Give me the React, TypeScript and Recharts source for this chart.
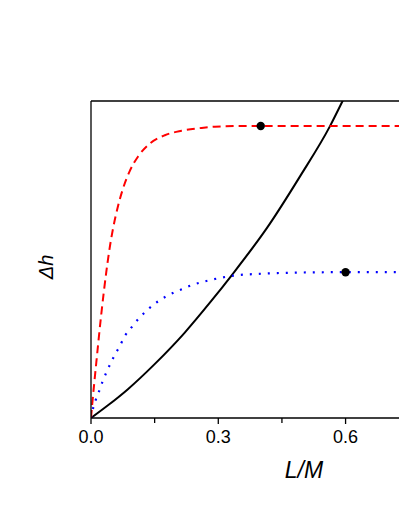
import React from 'react';
import { ComposedChart, Line, Scatter, XAxis, YAxis, ReferenceLine } from 'recharts';

const redLM = [0, 0.0024, 0.0125, 0.024, 0.036, 0.045, 0.052, 0.064, 0.075, 0.091, 0.111, 0.138, 0.174, 0.213, 0.26, 0.292, 0.35, 0.4, 0.5, 0.6, 0.78];
const redDH = [0, 0.036, 0.175, 0.325, 0.46, 0.545, 0.598, 0.67, 0.722, 0.778, 0.825, 0.865, 0.892, 0.906, 0.915, 0.919, 0.921, 0.921, 0.921, 0.921, 0.921];

const blueLM = [0, 0.005, 0.0125, 0.02, 0.028, 0.036, 0.046, 0.056, 0.068, 0.079, 0.095, 0.112, 0.133, 0.154, 0.176, 0.197, 0.218, 0.239, 0.26, 0.281, 0.335, 0.4, 0.5, 0.6, 0.78];
const blueDH = [0, 0.031, 0.062, 0.088, 0.118, 0.143, 0.172, 0.199, 0.227, 0.257, 0.285, 0.313, 0.341, 0.364, 0.383, 0.397, 0.408, 0.42, 0.428, 0.435, 0.449, 0.455, 0.459, 0.46, 0.46];

const blackLM = [0, 0.04, 0.087, 0.15, 0.22, 0.284, 0.332, 0.414, 0.493, 0.563, 0.593, 0.62];
const blackDH = [0, 0.04, 0.091, 0.17, 0.268, 0.37, 0.451, 0.598, 0.763, 0.92, 1.0, 1.075];

const markerLM = [0.4, 0.6];
const markerDH = [0.921, 0.46];

const xTicks = [0, 0.15, 0.3, 0.45, 0.6];
const xTickLabels = ['0.0', '', '0.3', '', '0.6'];

const zip = (xs: number[], ys: number[]) => xs.map((x, i) => ({ x, y: ys[i] }));
const redData = zip(redLM, redDH);
const blueData = zip(blueLM, blueDH);
const blackData = zip(blackLM, blackDH);
const markerData = zip(markerLM, markerDH);

const FONT = '"Liberation Sans", Arial, sans-serif';

const Tick = (props: any) => {
  const { x, y, payload } = props;
  const idx = xTicks.indexOf(payload.value);
  const label = idx >= 0 ? xTickLabels[idx] : '';
  const len = label ? 6 : 5;
  return (
    <g>
      <line x1={x} x2={x} y1={y} y2={y + len} stroke="#000" strokeWidth={1.3} />
      {label && (
        <text x={x} y={y + 25} textAnchor="middle" fontSize={18} fontFamily={FONT} fill="#000">
          {label}
        </text>
      )}
    </g>
  );
};

export default function App() {
  return (
    <div style={{ position: 'fixed', left: 8, top: 8, width: 391, height: 480, overflow: 'hidden', background: '#fff' }}>
      <ComposedChart width={410} height={480} margin={{ top: 93, right: 0, left: 0, bottom: 40 }}>
        <XAxis
          type="number"
          dataKey="x"
          domain={[0, 0.7707]}
          allowDataOverflow
          ticks={xTicks}
          tickSize={0}
          tickMargin={0}
          tickLine={false}
          tick={<Tick />}
          axisLine={{ stroke: '#000', strokeWidth: 1.3 }}
          height={30}
          interval={0}
        />
        <YAxis
          type="number"
          dataKey="y"
          domain={[0, 1]}
          allowDataOverflow
          width={83}
          tick={false}
          tickLine={false}
          axisLine={{ stroke: '#000', strokeWidth: 1.3 }}
        />
        <ReferenceLine y={1} stroke="#000" strokeWidth={1.3} />
        <Line data={blackData} dataKey="y" type="monotone" stroke="#000" strokeWidth={2} dot={false} isAnimationActive={false} />
        <Line data={blueData} dataKey="y" type="monotone" stroke="#0000FF" strokeWidth={2.2} strokeDasharray="2 7" dot={false} isAnimationActive={false} />
        <Line data={redData} dataKey="y" type="monotone" stroke="#FF0000" strokeWidth={2} strokeDasharray="8 5" dot={false} isAnimationActive={false} />
        <Scatter data={markerData} dataKey="y" fill="#000" isAnimationActive={false} shape={(p: any) => <circle cx={p.cx} cy={p.cy} r={4.2} fill="#000" />} />
      </ComposedChart>
      <svg width={391} height={480} style={{ position: 'absolute', left: 0, top: 0, pointerEvents: 'none' }}>
        <text transform="translate(45,259) rotate(-90)" textAnchor="middle" fontSize={20} fontStyle="italic" fontFamily={FONT} fill="#000">
          Δh
        </text>
        <text x={296} y={470} textAnchor="middle" fontSize={23} fontStyle="italic" fontFamily={FONT} fill="#000">
          L/M
        </text>
      </svg>
    </div>
  );
}
